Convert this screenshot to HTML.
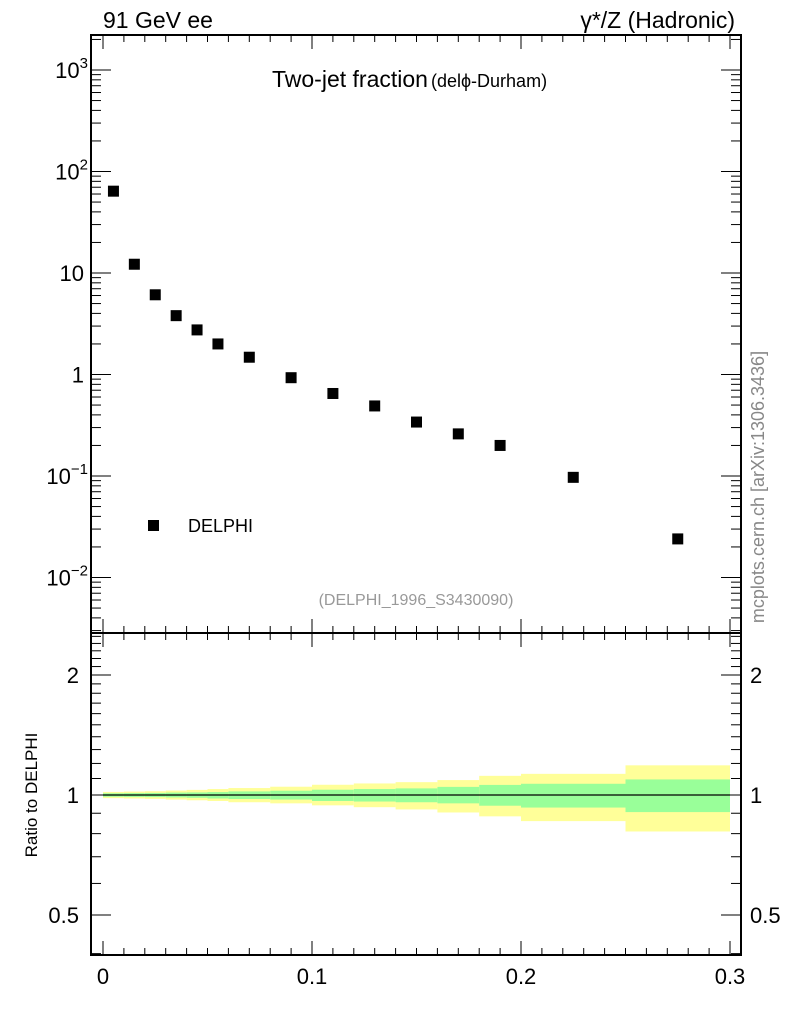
<!DOCTYPE html>
<html><head><meta charset="utf-8"><style>
html,body{margin:0;padding:0;background:#fff;}
svg{display:block;font-family:"Liberation Sans",sans-serif;}
</style></head><body>
<svg id="c" width="786" height="1024" viewBox="0 0 786 1024" xmlns="http://www.w3.org/2000/svg">
<text x="103" y="28" font-size="23">91 GeV ee</text>
<text x="735" y="28" font-size="23" text-anchor="end">γ*/Z (Hadronic)</text>
<text x="272" y="87" font-size="23">Two-jet fraction<tspan font-size="18" dx="3">(delϕ-Durham)</tspan></text>
<text x="416" y="605" font-size="16" fill="#999" text-anchor="middle">(DELPHI_1996_S3430090)</text>
<text transform="translate(764,487) rotate(-90)" font-size="18" fill="#888" text-anchor="middle">mcplots.cern.ch [arXiv:1306.3436]</text>
<text transform="translate(37,795) rotate(-90)" font-size="17" text-anchor="middle">Ratio to DELPHI</text>
<rect x="148" y="520" width="11" height="11" fill="#000"/>
<text x="188" y="532" font-size="18">DELPHI</text>
<g id="g"></g>
</svg>
<script>
const xCenters=[0.005,0.015,0.025,0.035,0.045,0.055,0.07,0.09,0.11,0.13,0.15,0.17,0.19,0.225,0.275];
const yValues=[64,12.2,6.1,3.8,2.75,2.0,1.48,0.93,0.65,0.49,0.34,0.26,0.20,0.097,0.024];
const binEdges=[0,0.01,0.02,0.03,0.04,0.05,0.06,0.08,0.10,0.12,0.14,0.16,0.18,0.20,0.25,0.30];
const yellowUp=[1.018,1.02,1.022,1.026,1.03,1.035,1.041,1.049,1.061,1.069,1.077,1.09,1.117,1.13,1.187];
const yellowDn=[0.982,0.98,0.978,0.974,0.97,0.966,0.959,0.953,0.942,0.932,0.92,0.904,0.884,0.86,0.81];
const greenUp=[1.01,1.011,1.012,1.014,1.015,1.017,1.021,1.025,1.031,1.035,1.039,1.048,1.06,1.067,1.094];
const greenDn=[0.99,0.989,0.988,0.986,0.984,0.98,0.977,0.974,0.966,0.963,0.959,0.953,0.94,0.93,0.906];
const xTicks=[0,0.1,0.2,0.3];
const mainTicks=[[1000,"10","3"],[100,"10","2"],[10,"10",""],[1,"1",""],[0.1,"10","−1"],[0.01,"10","−2"]];
const ratioTicks=[[2,"2"],[1,"1"],[0.5,"0.5"]];

const L=91,R=741,T=35,M=633,B=955;
const sx=x=>103+x*2090;
const sy=v=>374.5-101.5*Math.log10(v);
const ry=v=>795-120*Math.log2(v);
const g=document.getElementById('g');
const NS="http://www.w3.org/2000/svg";
function mk(t,a){const e=document.createElementNS(NS,t);for(const k in a)e.setAttribute(k,a[k]);g.appendChild(e);return e;}

for(let i=0;i<xCenters.length;i++){
  const x0=sx(binEdges[i]),x1=sx(binEdges[i+1]);
  const y=mk('rect',{x:x0,y:ry(yellowUp[i]),width:x1-x0,height:ry(yellowDn[i])-ry(yellowUp[i]),fill:'#ffff99'});
  
  
  const gr=mk('rect',{x:x0,y:ry(greenUp[i]),width:x1-x0,height:ry(greenDn[i])-ry(greenUp[i]),fill:'#99ff99'});
  
  
}
const rl=mk('line',{x1:sx(0),x2:sx(0.3),y1:ry(1),y2:ry(1),stroke:'#000','stroke-width':1.3});



for(let i=0;i<xCenters.length;i++){
  const p=mk('rect',{x:sx(xCenters[i])-5.5,y:sy(yValues[i])-5.5,width:11,height:11,fill:'#000'});
  
  
}

const f1=mk('rect',{x:L,y:T,width:R-L,height:M-T,fill:'none',stroke:'#000','stroke-width':2});


const f2=mk('rect',{x:L,y:M,width:R-L,height:B-M,fill:'none',stroke:'#000','stroke-width':2});



for(let k=0;k<=30;k++){
  const x=sx(k/100),major=k%10==0,len=major?14:7;
  [[T,1],[M,-1],[M,1],[B,-1]].forEach(([y0,d])=>mk('line',{x1:x,x2:x,y1:y0,y2:y0+d*len,stroke:'#000','stroke-width':1}));
}
xTicks.forEach(v=>{
  const t=mk('text',{x:sx(v),y:984,'font-size':22,'text-anchor':'middle'});
  t.textContent=String(v);
  
  
});
for(let e=-3;e<=3;e++){
  for(let m=1;m<=9;m++){
    const v=m*Math.pow(10,e),y=sy(v);
    if(y<T||y>M)continue;
    const len=m==1?20:10;
    mk('line',{x1:L,x2:L+len,y1:y,y2:y,stroke:'#000','stroke-width':1});
    mk('line',{x1:R,x2:R-len,y1:y,y2:y,stroke:'#000','stroke-width':1});
  }
}
mainTicks.forEach(([v,b,s])=>{
  const t=mk('text',{x:s?88:84,y:sy(v)+8,'font-size':22,'text-anchor':'end'});
  t.textContent=b;
  if(s){const ts=document.createElementNS(NS,'tspan');ts.setAttribute('font-size',15);ts.setAttribute('dy',-10);ts.textContent=s;t.appendChild(ts);}
  
  
});
[0.4,0.5,0.6,0.7,0.8,0.9,1,1.1,1.2,1.3,1.4,1.5,1.6,1.7,1.8,1.9,2,2.1,2.2,2.3,2.4,2.5].forEach(v=>{
  const y=ry(v);if(y<M||y>B)return;
  const len=(v==0.5||v==1||v==2)?20:10;
  mk('line',{x1:L,x2:L+len,y1:y,y2:y,stroke:'#000','stroke-width':1});
  mk('line',{x1:R,x2:R-len,y1:y,y2:y,stroke:'#000','stroke-width':1});
});
ratioTicks.forEach(([v,s])=>{
  const a=mk('text',{x:79,y:ry(v)+8,'font-size':22,'text-anchor':'end'});a.textContent=s;
  
  
  const b=mk('text',{x:750,y:ry(v)+8,'font-size':22});b.textContent=s;
  
  
});
</script>
</body></html>
